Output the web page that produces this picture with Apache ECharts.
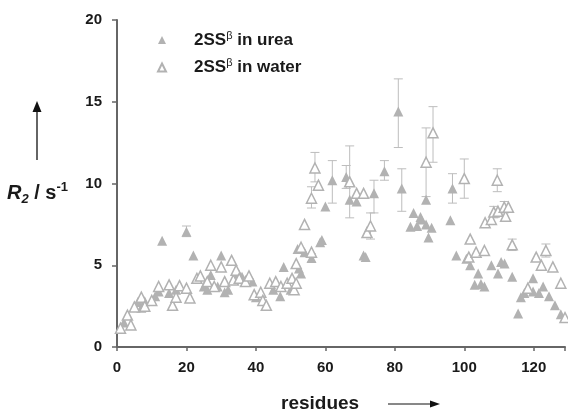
<!DOCTYPE html>
<html>
<head>
<meta charset="utf-8">
<script src="https://cdn.jsdelivr.net/npm/echarts@6/dist/echarts.min.js"></script>
<style>
html,body{margin:0;padding:0;background:#fff;}
#chart{width:568px;height:414px;}
</style>
</head>
<body>
<div id="chart"></div>
<script>
// Residue / R2 values
var ureaPoints = [
  [2,1.5],[6,2.75],[7,2.4],[8,2.8],[11,3.1],[12,3.4],[13,6.5],[15,3.3],[17,3.5],[20,7.05],
  [22,5.6],[25,3.7],[26,3.5],[27,4.4],[29,3.7],[30,5.6],[31,3.35],[32,3.5],[35,4.5],[36,4.3],
  [39,4.0],[40,3.05],[45,3.5],[47,3.1],[48,4.9],[50,3.5],[52,6.0],[52.4,4.8],[53,4.5],[54,5.8],
  [56,5.45],[58.5,6.4],[59,6.55],[60,8.6],[62,10.2],[66,10.4],[67,9.0],[69,8.9],[71,5.6],[71.6,5.5],
  [74,9.4],[77,10.75],[81,14.4],[82,9.7],[84.5,7.35],[85.4,8.2],[86.4,7.4],[87.4,7.95],[87.6,7.8],[89,9.0],
  [89,7.5],[89.7,6.7],[90.6,7.3],[96,7.75],[96.6,9.7],[97.7,5.6],[100.6,5.4],[101.7,5.0],[103,3.8],[104,4.5],
  [104.8,3.85],[105.8,3.7],[107.8,5.0],[109.7,4.5],[110.6,5.2],[111.6,5.1],[113.8,4.3],[115.5,2.05],[116.3,3.05],[117.3,3.3],
  [119.8,4.2],[119.8,3.4],[121.5,3.3],[122.7,3.7],[124.4,3.1],[126.1,2.55],[127.8,2.0]
];
var waterPoints = [
  [1,1.15],[3,1.95],[4,1.35],[5,2.45],[7,3.05],[8,2.5],[10,2.85],[12,3.7],[15,3.8],[16,2.55],
  [17,3.05],[18,3.75],[20,3.6],[21,3.0],[23,4.2],[24,4.35],[26,4.0],[27,5.0],[28,3.7],[30,4.9],
  [31,4.0],[33,5.3],[33.5,4.1],[34.3,4.7],[35.2,4.2],[37,4.0],[38,4.35],[39.5,3.2],[41.4,3.35],[42,2.85],
  [43,2.55],[44,3.9],[45.7,4.0],[47.2,3.7],[49,3.9],[50.4,4.2],[51,3.5],[51.6,3.9],[51.6,5.1],[53,6.1],
  [54,7.5],[56,5.8],[56,9.1],[57,10.95],[58,9.9],[67,10.1],[69,9.4],[71,9.4],[72,7.0],[73,7.4],
  [89,11.3],[91,13.1],[100,10.3],[101.3,5.5],[101.7,6.6],[103.4,5.8],[105.8,5.9],[106,7.6],[107.8,7.8],[108.5,8.25],
  [109.5,10.2],[109.7,8.3],[111.5,8.55],[111.9,8.0],[112.7,8.55],[113.8,6.25],[118.3,3.6],[120.7,5.5],[122.2,5.0],[123.5,5.9],
  [125.5,4.9],[127.8,3.9],[129,1.8]
];
// error bars: [residue, low, high]
var errorBars = [
  [20,6.75,7.4],[56,8.5,9.8],[57,10.1,11.9],[62,8.8,11.4],[66,9.7,11.1],[67,7.9,12.3],
  [73,6.6,8.2],[74,8.2,10.2],[77,10.2,11.4],[81,12.2,16.4],[82,8.3,10.9],[89,9.2,13.4],
  [91,11.3,14.7],[96.6,8.8,10.6],[100,9.1,11.5],[109.5,9.5,10.9],[123.5,5.5,6.3],
  [108.5,7.9,8.6],[111.5,8.2,8.9],[113.8,5.9,6.6],[56,5.2,5.7]
];
var xTicks = [0,20,40,60,80,100,120];
var yTicks = [0,5,10,15,20];
var legendNames = ['urea','water'];

var FONT = 'Liberation Sans, Arial, sans-serif';
var gray = '#b2b2b2';
var axisColor = '#666';
var chart = echarts.init(document.getElementById('chart'));
var labelStyle = {color:'#1a1a1a', fontWeight:'bold', fontSize:15, fontFamily:FONT};

chart.setOption({
  animation:false,
  grid:{left:117, right:0, top:20, bottom:67, containLabel:false},
  legend:{
    orient:'vertical', left:157, top:30, padding:0, itemGap:9,
    itemWidth:8, itemHeight:8,
    data:legendNames,
    formatter:function(n){ return '{g|}{t|2SS}{s|β}{t| in ' + n + '}'; },
    textStyle:{
      rich:{
        g:{width:23, lineHeight:20},
        t:{fontSize:17, fontWeight:'bold', color:'#1a1a1a', fontFamily:FONT, lineHeight:20},
        s:{fontSize:11, color:'#1a1a1a', verticalAlign:'top', lineHeight:14, fontFamily:FONT}
      }
    }
  },
  xAxis:{
    type:'value', min:0, max:129, interval:20,
    splitLine:{show:false},
    axisLine:{lineStyle:{color:axisColor, width:2}},
    axisTick:{length:4, lineStyle:{color:axisColor, width:1.5}},
    axisLabel:Object.assign({margin:13, formatter:function(v){return xTicks.indexOf(v)>=0 ? String(v) : '';}}, labelStyle)
  },
  yAxis:{
    type:'value', min:0, max:20, interval:5,
    splitLine:{show:false},
    axisLine:{show:true, lineStyle:{color:axisColor, width:2}},
    axisTick:{show:true, length:5, lineStyle:{color:axisColor, width:1.5}},
    axisLabel:Object.assign({margin:15, formatter:function(v){return yTicks.indexOf(v)>=0 ? String(v) : '';}}, labelStyle)
  },
  series:[
    {
      type:'custom', name:'err', z:1, silent:true,
      data:errorBars,
      encode:{x:0, y:[1,2]},
      renderItem:function(params, api){
        var x = api.value(0), lo = api.value(1), hi = api.value(2);
        var p1 = api.coord([x, hi]), p2 = api.coord([x, lo]);
        var w = 4.5, st = {stroke:'#bdbdbd', lineWidth:1};
        return {type:'group', children:[
          {type:'line', shape:{x1:p1[0], y1:p1[1], x2:p2[0], y2:p2[1]}, style:st},
          {type:'line', shape:{x1:p1[0]-w, y1:p1[1], x2:p1[0]+w, y2:p1[1]}, style:st},
          {type:'line', shape:{x1:p2[0]-w, y1:p2[1], x2:p2[0]+w, y2:p2[1]}, style:st}
        ]};
      }
    },
    {
      type:'scatter', name:'urea', z:3, symbol:'triangle', symbolSize:10,
      itemStyle:{color:gray, opacity:1},
      data:ureaPoints
    },
    {
      type:'scatter', name:'water', z:4, symbol:'triangle', symbolSize:10,
      itemStyle:{color:'#ffffff', borderColor:gray, borderWidth:1.5, opacity:1},
      data:waterPoints
    }
  ],
  graphic:[
    {type:'line', shape:{x1:37, y1:160, x2:37, y2:110}, style:{stroke:'#111', lineWidth:1.3}},
    {type:'polygon', shape:{points:[[32.5,112],[41.5,112],[37,101]]}, style:{fill:'#111'}},
    {type:'text', left:7, top:181,
      style:{
        text:'{i|R}{sb|2}{n| / s}{sp|-1}',
        rich:{
          i:{fontSize:20, fontWeight:'bold', fontStyle:'italic', fill:'#1a1a1a', fontFamily:FONT, lineHeight:25},
          sb:{fontSize:13, fontWeight:'bold', fontStyle:'italic', fill:'#1a1a1a', verticalAlign:'bottom', lineHeight:14, fontFamily:FONT},
          n:{fontSize:20, fontWeight:'bold', fill:'#1a1a1a', fontFamily:FONT, lineHeight:25},
          sp:{fontSize:13, fontWeight:'bold', fill:'#1a1a1a', verticalAlign:'top', lineHeight:14, fontFamily:FONT}
        }
      }
    },
    {type:'text', left:281, top:394,
      style:{text:'residues', fontSize:19, fontWeight:'bold', fill:'#1a1a1a', fontFamily:FONT}},
    {type:'line', shape:{x1:388, y1:404, x2:432, y2:404}, style:{stroke:'#111', lineWidth:1}},
    {type:'polygon', shape:{points:[[430,400.5],[430,407.5],[440,404]]}, style:{fill:'#111'}}
  ]
});
</script>
</body>
</html>
